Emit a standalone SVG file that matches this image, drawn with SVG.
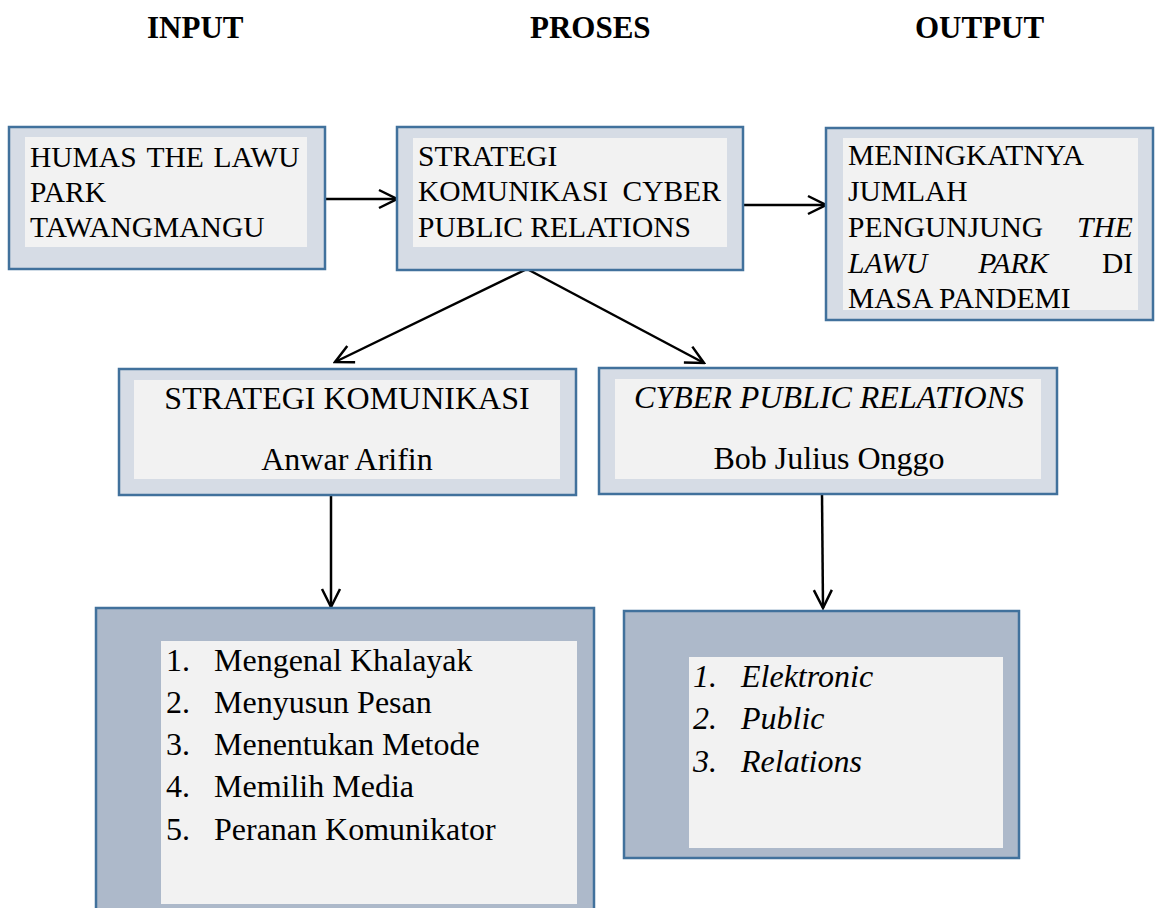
<svg xmlns="http://www.w3.org/2000/svg" width="1155" height="908" viewBox="0 0 1155 908">
<style>
.outer{fill:#d6dce5;stroke:#41719c;stroke-width:2.5}
.outer2{fill:#adb9ca;stroke:#41719c;stroke-width:2.5}
.inner{fill:#f2f2f2}
.t{font-family:"Liberation Serif","Times New Roman",serif;font-size:29.5px;fill:#000}
.t2{font-family:"Liberation Serif","Times New Roman",serif;font-size:32px;fill:#000}
.h{font-family:"Liberation Serif","Times New Roman",serif;font-size:31px;font-weight:bold;fill:#000}
.i{font-style:italic}
.c{text-anchor:middle}
.conn{stroke:#000;stroke-width:2.5;fill:none}
</style>
<defs>
<marker id="arr" markerUnits="userSpaceOnUse" viewBox="0 0 22 22" refX="20" refY="11" markerWidth="22" markerHeight="22" orient="auto">
<path d="M2,2 L20,11 L2,20" fill="none" stroke="#000" stroke-width="2.5"/>
</marker>
</defs>
<rect width="1155" height="908" fill="#fff"/>
<g id="headers">
<text class="h" x="147" y="38">INPUT</text>
<text class="h" x="530" y="38">PROSES</text>
<text class="h" x="915" y="38">OUTPUT</text>
</g>
<g id="connectors">
<line class="conn" x1="325" y1="199" x2="397" y2="199" marker-end="url(#arr)"/>
<line class="conn" x1="743" y1="205" x2="826" y2="205" marker-end="url(#arr)"/>
<line class="conn" x1="527" y1="269" x2="335" y2="362" marker-end="url(#arr)"/>
<line class="conn" x1="527" y1="269" x2="704" y2="363" marker-end="url(#arr)"/>
<line class="conn" x1="331" y1="495" x2="331" y2="607" marker-end="url(#arr)"/>
<line class="conn" x1="822" y1="494" x2="823" y2="608" marker-end="url(#arr)"/>
</g>
<g id="node-input">
<rect class="outer" x="9" y="127" width="316" height="142"/>
<rect class="inner" x="25" y="137" width="282" height="110"/>
<text class="t" x="30" y="167">HUMAS</text>
<text class="t" x="146.4" y="167">THE</text>
<text class="t" x="213.5" y="167">LAWU</text>
<text class="t" x="30" y="202">PARK</text>
<text class="t" x="30" y="237">TAWANGMANGU</text>
</g>
<g id="node-proses">
<rect class="outer" x="397" y="127" width="346" height="143"/>
<rect class="inner" x="413" y="138" width="314" height="109"/>
<text class="t" x="418" y="166">STRATEGI</text>
<text class="t" x="418" y="201">KOMUNIKASI</text>
<text class="t" x="622.6" y="201">CYBER</text>
<text class="t" x="418" y="237">PUBLIC RELATIONS</text>
</g>
<g id="node-output">
<rect class="outer" x="826" y="128" width="327" height="192"/>
<rect class="inner" x="843" y="138" width="295" height="172"/>
<text class="t" x="848" y="165">MENINGKATNYA</text>
<text class="t" x="848" y="201">JUMLAH</text>
<text class="t" x="848" y="237">PENGUNJUNG</text>
<text class="t i" x="1077" y="237">THE</text>
<text class="t i" x="848" y="273">LAWU</text>
<text class="t i" x="978.3" y="273">PARK</text>
<text class="t" x="1102" y="273">DI</text>
<text class="t" x="848" y="308">MASA PANDEMI</text>
</g>
<g id="node-strategi">
<rect class="outer" x="119" y="369" width="457" height="126"/>
<rect class="inner" x="134" y="380" width="426" height="99"/>
<text class="t2 c" x="347" y="409">STRATEGI KOMUNIKASI</text>
<text class="t2 c" x="347" y="470">Anwar Arifin</text>
</g>
<g id="node-cpr">
<rect class="outer" x="599" y="368" width="458" height="126"/>
<rect class="inner" x="615" y="379" width="426" height="100"/>
<text class="t2 c i" x="829" y="408">CYBER PUBLIC RELATIONS</text>
<text class="t2 c" x="829" y="469">Bob Julius Onggo</text>
</g>
<g id="node-list1">
<rect class="outer2" x="96" y="608" width="498" height="310"/>
<rect class="inner" x="161" y="641" width="416" height="263"/>
<text class="t2" x="166" y="671">1.</text><text class="t2" x="214" y="671">Mengenal Khalayak</text>
<text class="t2" x="166" y="713">2.</text><text class="t2" x="214" y="713">Menyusun Pesan</text>
<text class="t2" x="166" y="755">3.</text><text class="t2" x="214" y="755">Menentukan Metode</text>
<text class="t2" x="166" y="797">4.</text><text class="t2" x="214" y="797">Memilih Media</text>
<text class="t2" x="166" y="840">5.</text><text class="t2" x="214" y="840">Peranan Komunikator</text>
</g>
<g id="node-list2">
<rect class="outer2" x="624" y="611" width="395" height="247"/>
<rect class="inner" x="689" y="657" width="314" height="191"/>
<text class="t2 i" x="693" y="687">1.</text><text class="t2 i" x="741" y="687">Elektronic</text>
<text class="t2 i" x="693" y="729">2.</text><text class="t2 i" x="741" y="729">Public</text>
<text class="t2 i" x="693" y="772">3.</text><text class="t2 i" x="741" y="772">Relations</text>
</g>
</svg>
